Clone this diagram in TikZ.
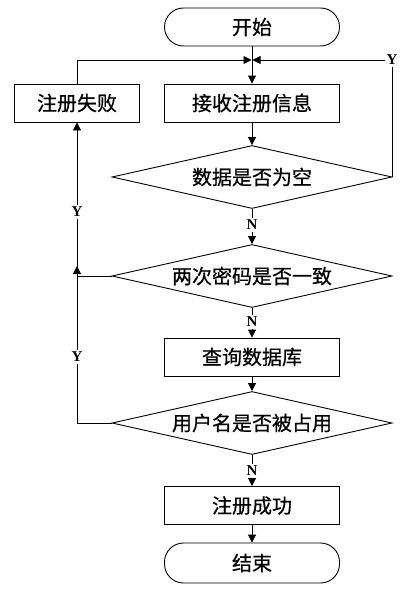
\documentclass[tikz,border=0pt]{standalone}
\usepackage{fontspec}
\setmainfont{Liberation Serif}
\newfontfamily\cjk[FakeBold=0.6]{Noto Sans CJK SC}
\usetikzlibrary{shapes.geometric,arrows.meta}
\begin{document}
\begin{tikzpicture}[x=1pt,y=-1pt,
  line width=0.9pt,
  txt/.style={font=\cjk\fontsize{20}{22}\selectfont},
  proc/.style={draw,rectangle,txt,minimum width=175pt,minimum height=38pt,inner sep=0pt},
  term/.style={draw,rectangle,rounded corners=19pt,txt,minimum width=175pt,minimum height=38pt,inner sep=0pt},
  dec/.style={draw,diamond,txt,minimum width=280pt,minimum height=63pt,inner sep=0pt,aspect=4.4},
  lab/.style={font=\bfseries\fontsize{15}{17}\selectfont,inner sep=1.5pt,fill=white},
  arr/.style={-{Triangle[length=8pt,width=8pt]}}]
\useasboundingbox (0,0) rectangle (407,594);
\node[term] (start) at (252,27) {开始};
\node[proc] (recv) at (252,103) {接收注册信息};
\node[proc,minimum width=125pt] (fail) at (77,103) {注册失败};
\node[dec] (d1) at (252,177) {数据是否为空};
\node[dec] (d2) at (252,276) {两次密码是否一致};
\node[proc] (query) at (252,357) {查询数据库};
\node[dec] (d3) at (252,423) {用户名是否被占用};
\node[proc] (ok) at (252,505.5) {注册成功};
\node[term,minimum height=40pt] (end) at (252,563) {结束};

\coordinate (j) at (252,60);
\coordinate (jl) at (251.5,60);
\coordinate (jr) at (252.5,60);
\coordinate (ft) at (77,60);
\coordinate (c2) at (77,276);
\coordinate (c2a) at (77,266);
\coordinate (c3) at (77,423);

\node[lab] (y0) at (392,60) {Y};
\node[lab] (y1) at (77,212) {Y};
\node[lab] (y2) at (77,357) {Y};
\node[lab] (n1) at (252,225) {N};
\node[lab] (n2) at (252,322) {N};
\node[lab] (n3) at (252,471) {N};

\draw (start) -- (j);
\draw[arr] (j) -- (recv);
\draw (fail.north) -- (ft);
\draw[arr] (ft) -- (jl);
\draw (d1.east) -- (d1.east |- y0.south);
\draw[arr] (y0.west) -- (jr);
\draw[arr] (recv) -- (d1);
\draw (d1.south) -- (n1.north);
\draw[arr] (n1.south) -- (d2.north);
\draw (d2.west) -- (c2);
\draw (c2) -- (y1.south);
\draw[arr] (y1.north) -- (fail.south);
\draw (d3.west) -- (c3) -- (y2.south);
\draw[arr] (y2.north) -- (c2a);
\draw (d2.south) -- (n2.north);
\draw[arr] (n2.south) -- (query.north);
\draw[arr] (query) -- (d3);
\draw (d3.south) -- (n3.north);
\draw[arr] (n3.south) -- (ok.north);
\draw[arr] (ok) -- (end);
\end{tikzpicture}
\end{document}
